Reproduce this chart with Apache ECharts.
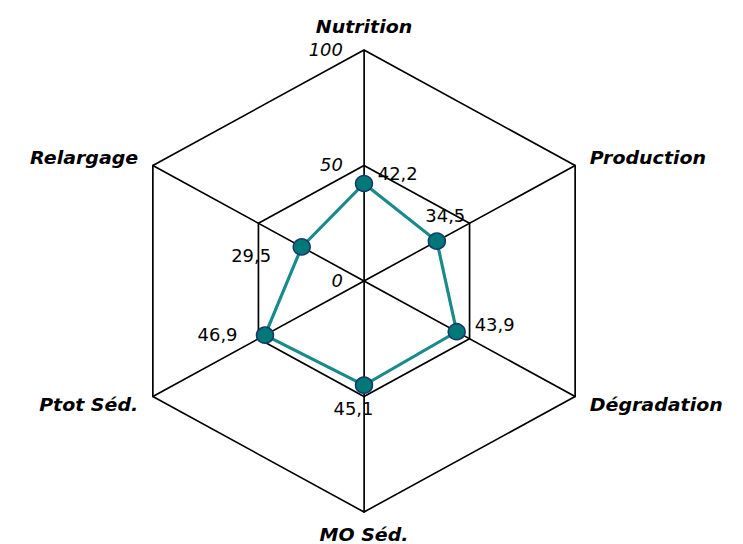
<!DOCTYPE html>
<html>
<head>
<meta charset="utf-8">
<script src="https://cdn.jsdelivr.net/npm/echarts@6/dist/echarts.min.js"></script>
<style>
  html, body { margin: 0; padding: 0; background: #fff; overflow: hidden; }
  /* the hexagon is drawn slightly wider than tall */
  #chart { width: 704px; height: 544px; transform: scaleX(1.0554); transform-origin: 0 0; }
</style>
</head>
<body>
<div id="chart"></div>
<script>
// Axes, listed counter-clockwise from the top
const indicators = ['Nutrition', 'Relargage', 'Ptot Séd.', 'MO Séd.', 'Dégradation', 'Production'];
const scores = [42.2, 29.5, 46.9, 45.1, 43.9, 34.5];
const scaleMax = 100;
const scaleStep = 50;

// Where each value label sits around its marker
const labelPlacement = [
  { position: 'right',  offset: [0, -9] },
  { position: 'left',   offset: [-16, 9] },
  { position: 'left',   offset: [-13, 0] },
  { position: 'bottom', offset: [-10, 2] },
  { position: 'right',  offset: [4, -7] },
  { position: 'top',    offset: [8, -3] }
];

const STRETCH = 1.0554;
const CX = 364 / STRETCH;
const CY = 281;
const R = 231;
const FONT = 'DejaVu Sans';
const fmt = v => v.toFixed(1).replace('.', ',');

const labelItems = scores.map((_, k) => ({
  value: scores,
  symbol: 'circle',
  symbolSize: 16,
  itemStyle: { color: 'rgba(0,0,0,0)', borderWidth: 0 },
  lineStyle: { width: 0, opacity: 0 },
  label: {
    show: true,
    position: labelPlacement[k].position,
    offset: labelPlacement[k].offset,
    color: '#000',
    opacity: 1,
    fontFamily: FONT,
    fontSize: 17,
    formatter: p => {
      const idx = p.dimensionIndex;
      const v = Array.isArray(p.value) ? p.value[idx] : p.value;
      const match = idx != null ? idx === k : v === scores[k];
      return match ? fmt(v) : '';
    }
  }
}));

const chart = echarts.init(document.getElementById('chart'), null, { renderer: 'svg' });
chart.setOption({
  animation: false,
  backgroundColor: '#fff',
  polar: { center: [CX, CY], radius: R },
  angleAxis: { show: false, startAngle: 90, min: 0, max: 360 },
  radiusAxis: {
    min: 0,
    max: scaleMax,
    interval: scaleStep,
    axisLine: { show: false },
    axisTick: { show: false },
    splitLine: { show: false },
    axisLabel: {
      show: true,
      margin: 20,
      color: '#000',
      fontFamily: FONT,
      fontStyle: 'italic',
      fontSize: 17
    },
    z: 5
  },
  radar: {
    center: [CX, CY],
    radius: R,
    startAngle: 90,
    splitNumber: 2,
    shape: 'polygon',
    nameGap: 16,
    indicator: indicators.map(name => ({ name, min: 0, max: scaleMax })),
    axisName: {
      color: '#000',
      fontFamily: FONT,
      fontWeight: 'bold',
      fontStyle: 'italic',
      fontSize: 18,
      lineHeight: 14
    },
    axisLine: { lineStyle: { color: '#000', width: 1.6 } },
    splitLine: { lineStyle: { color: '#000', width: 1.6 } },
    splitArea: { show: false },
    axisLabel: { show: false }
  },
  series: [{
    type: 'radar',
    data: [
      {
        value: scores,
        symbol: 'circle',
        symbolSize: 16,
        itemStyle: { color: '#007878', borderColor: '#15396b', borderWidth: 1.5 },
        lineStyle: { color: '#178a8a', width: 3 },
        label: { show: false }
      },
      ...labelItems
    ]
  }]
});
</script>
</body>
</html>
